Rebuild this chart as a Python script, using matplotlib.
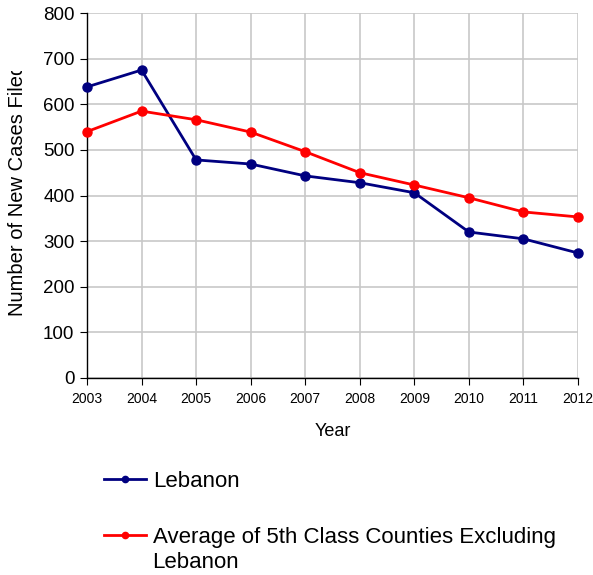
import matplotlib
matplotlib.use("Agg")
import matplotlib.pyplot as plt
from matplotlib.lines import Line2D
from matplotlib.transforms import Bbox

years = [2003, 2004, 2005, 2006, 2007, 2008, 2009, 2010, 2011, 2012]
lebanon = [638, 675, 478, 469, 443, 428, 406, 320, 305, 274]
avg_5th = [540, 585, 566, 539, 496, 450, 423, 395, 364, 353]
yticks = [0, 100, 200, 300, 400, 500, 600, 700, 800]
labels = ['Lebanon', 'Average of 5th Class Counties Excluding', 'Lebanon']

plt.rcParams['font.family'] = ['Liberation Sans', 'DejaVu Sans']

W, H = 593, 575
fig = plt.figure(figsize=(W/100, H/100), dpi=100)
ax_l, ax_r, ax_t, ax_b = 87, 578, 13, 378
ax = fig.add_axes([ax_l/W, 1-ax_b/H, (ax_r-ax_l)/W, (ax_b-ax_t)/H])

navy = '#000080'
red = '#FF0000'
ax.plot(years, lebanon, color=navy, lw=2, marker='o', ms=6.5, clip_on=False, zorder=3)
ax.plot(years, avg_5th, color=red, lw=2, marker='o', ms=6.5, clip_on=False, zorder=3)

ax.set_xlim(2003, 2012)
ax.set_ylim(0, 800)
ax.set_xticks(years)
ax.set_yticks(yticks)
ax.grid(True, color='#C8C8C8', lw=1.2)
ax.set_axisbelow(True)
for s in ['top', 'right']:
    ax.spines[s].set_visible(False)
for s in ['left', 'bottom']:
    ax.spines[s].set_color('black')
    ax.spines[s].set_linewidth(1)
ax.tick_params(axis='x', labelsize=10, length=5, pad=5, direction='out')
ax.tick_params(axis='y', labelsize=13.5, length=5, pad=4, direction='out')

ax.set_xlabel('Year', fontsize=13, labelpad=12)
yl = ax.set_ylabel('Number of New Cases Filed', fontsize=14.5)
ax.yaxis.set_label_coords((27-ax_l)/(ax_r-ax_l), (ax_b-190)/(ax_b-ax_t))
yl.set_clip_on(True)
yl.set_clip_box(Bbox([[0, 0], [W, H - 71]]))

h1 = Line2D([], [], color=navy, lw=2, marker='o', ms=4.5)
h2 = Line2D([], [], color=red, lw=2, marker='o', ms=4.5)
fs = 16.0
leg = fig.legend(handles=[h1, h2], labels=labels[:2], loc='upper left',
                 bbox_to_anchor=(104/W, 1-471/H), frameon=False, fontsize=fs,
                 handlelength=1.87, handletextpad=0.33, labelspacing=1.58,
                 borderaxespad=0, borderpad=0)
fig.text(152/W, 1-563/H, labels[2], fontsize=fs, ha='left', va='center')

fig.savefig('out.png', dpi=100)
